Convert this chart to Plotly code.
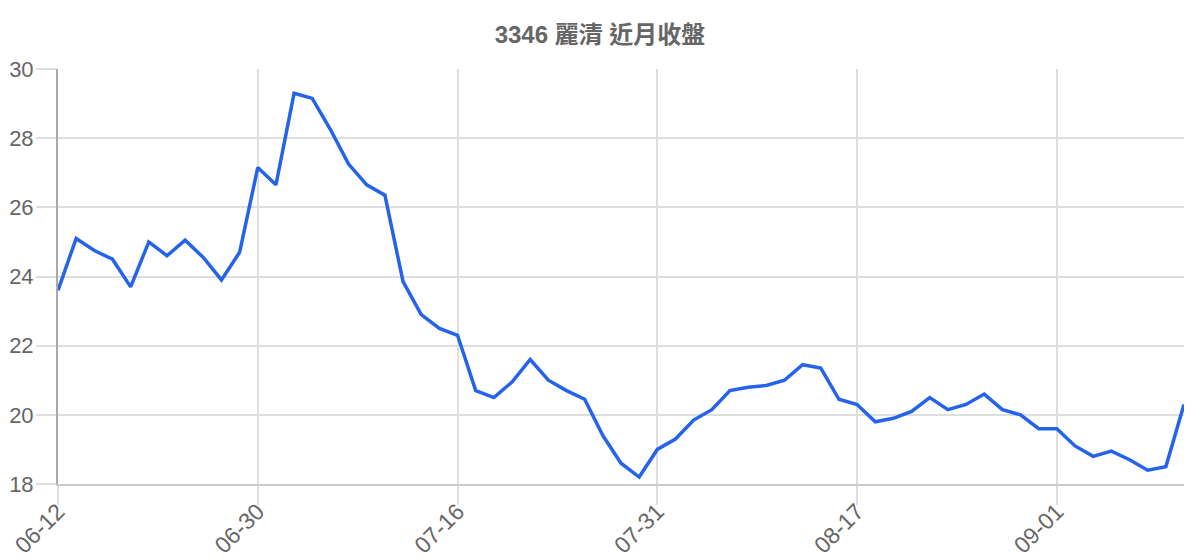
import plotly.graph_objects as go

title_text = "3346 麗清 近月收盤"

dates = [
    "06-12", "06-13", "06-15", "06-16", "06-17", "06-19", "06-20", "06-22", "06-24", "06-26", "06-28",
    "06-30", "07-01", "07-03", "07-04", "07-06", "07-07", "07-08", "07-10", "07-11", "07-13", "07-14",
    "07-16", "07-17", "07-18", "07-20", "07-21", "07-22", "07-24", "07-25", "07-27", "07-28", "07-29",
    "07-31", "08-01", "08-03", "08-04", "08-05", "08-07", "08-08", "08-10", "08-11", "08-13", "08-15",
    "08-17", "08-18", "08-19", "08-21", "08-22", "08-24", "08-25", "08-26", "08-28", "08-29", "08-31",
    "09-01", "09-02", "09-04", "09-05", "09-07", "09-08", "09-09", "09-11",
]

close = [
    23.6, 25.1, 24.75, 24.5, 23.7, 25.0, 24.6, 25.05, 24.55, 23.9, 24.7,
    27.15, 26.65, 29.3, 29.15, 28.25, 27.25, 26.65, 26.35, 23.85, 22.9, 22.5,
    22.3, 20.7, 20.5, 20.95, 21.6, 21.0, 20.7, 20.45, 19.4, 18.6, 18.2,
    19.0, 19.3, 19.85, 20.15, 20.7, 20.8, 20.85, 21.0, 21.45, 21.35, 20.45,
    20.3, 19.8, 19.9, 20.1, 20.5, 20.15, 20.3, 20.6, 20.15, 20.0, 19.6,
    19.6, 19.1, 18.8, 18.95, 18.7, 18.4, 18.5, 20.3,
]

x_tick_labels = ["06-12", "06-30", "07-16", "07-31", "08-17", "09-01"]
y_ticks = [18, 20, 22, 24, 26, 28, 30]

FONT = "Liberation Sans, Arial, Noto Sans CJK TC, sans-serif"
GRID = "#dedede"

# page body has an 8px margin, so the figure is sized to fit the window
W, H = 1192, 552

fig = go.Figure(
    go.Scatter(
        x=dates,
        y=close,
        mode="lines",
        line=dict(color="#2563eb", width=3.5),
        hoverinfo="x+y",
    )
)

fig.update_layout(
    width=W,
    height=H,
    paper_bgcolor="white",
    plot_bgcolor="white",
    margin=dict(l=50, r=16, t=61, b=76, autoexpand=False),
    showlegend=False,
    title=dict(
        text="<b>" + title_text + "</b>",
        x=592 / W,
        xanchor="center",
        y=1 - 27 / H,
        yanchor="middle",
        font=dict(family="Liberation Sans, Noto Sans CJK TC, sans-serif", size=24, color="#666666"),
    ),
    font=dict(family=FONT, color="#666666"),
)

fig.update_xaxes(
    type="category",
    automargin=False,
    range=[0, len(dates) - 1],
    tickmode="array",
    tickvals=x_tick_labels,
    ticktext=x_tick_labels,
    tickangle=-45,
    tickfont=dict(size=23, color="#666666", family=FONT),
    ticklabelstandoff=-16,
    showgrid=True,
    gridcolor=GRID,
    gridwidth=1.5,
    ticks="outside",
    ticklen=19,
    tickwidth=1.5,
    tickcolor=GRID,
    showline=True,
    linecolor="#cccccc",
    linewidth=2,
    zeroline=False,
)

fig.update_yaxes(
    automargin=False,
    range=[18, 30],
    tickmode="array",
    tickvals=y_ticks,
    tickfont=dict(size=22, color="#666666", family=FONT),
    ticklabelstandoff=-2,
    showgrid=True,
    gridcolor=GRID,
    gridwidth=1.5,
    ticks="outside",
    ticklen=20,
    tickwidth=1.5,
    tickcolor=GRID,
    showline=True,
    linecolor="#aaaaaa",
    linewidth=2,
    zeroline=False,
)

fig.write_html("out.html")
